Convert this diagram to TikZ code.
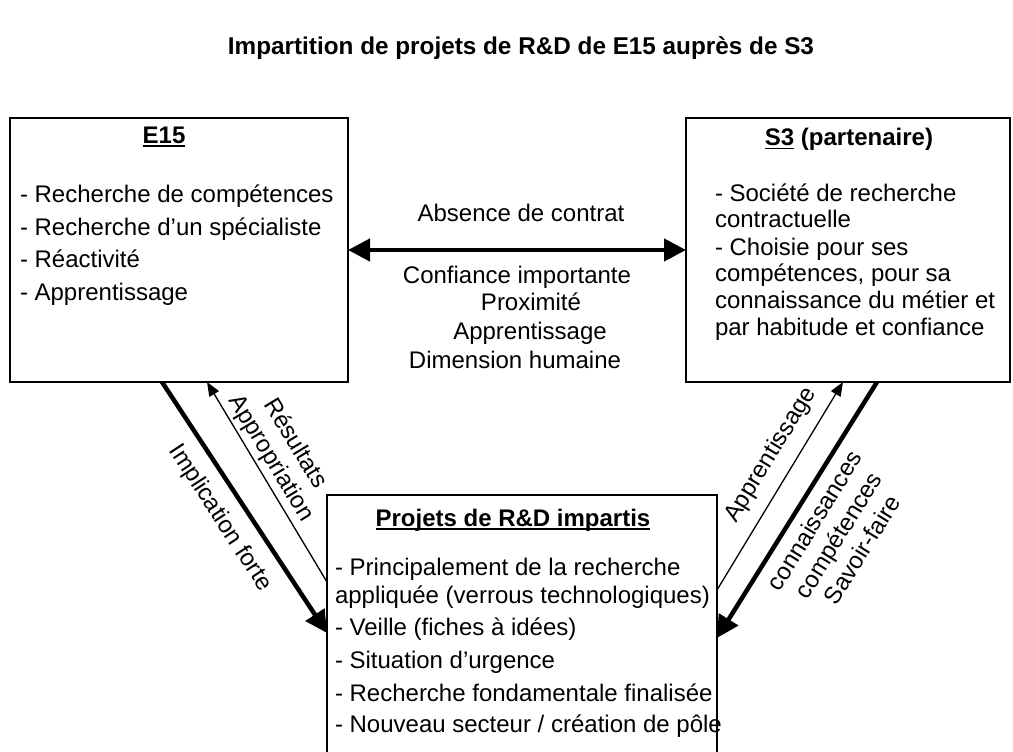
\documentclass[tikz,border=0pt]{standalone}
\usepackage{fontspec}
\setmainfont{Liberation Sans}
\usetikzlibrary{arrows.meta,calc}
% underline drawn as a rule just below the baseline
\newcommand\hdul[1]{\setbox0\hbox{#1}\rlap{\rule[-3.5pt]{\wd0}{1.8pt}}\box0\relax}

\begin{document}
\begin{tikzpicture}[x=1pt,y=-1pt,
  every node/.style={inner sep=0pt,outer sep=0pt,font=\fontsize{24}{27.6}\selectfont},
  box/.style={draw,line width=1.8pt,rectangle},
  line/.style={anchor=base west},
  mid/.style={anchor=base},
  thickarrow/.style={line width=4.5pt,-{Triangle[length=22pt,width=22pt]}},
  thinarrow/.style={line width=1.3pt,-{Triangle[length=14pt,width=11pt]}},
  twoway/.style={line width=4.5pt,{Triangle[length=22pt,width=22pt]}-{Triangle[length=22pt,width=22pt]}}
]
\clip (0,0) rectangle (1013,752);
\fill[white] (0,0) rectangle (1013,752);

% title
\node[mid,font=\fontsize{24.3}{28}\selectfont\bfseries] (title) at (521,55)
  {Impartition de projets de R\&D de E15 auprès de S3};

% the three boxes
\node[box,minimum width=338pt,minimum height=264pt] (e15) at (179,250) {};
\node[box,minimum width=324pt,minimum height=264pt] (s3) at (848,250) {};
\node[box,minimum width=390pt,minimum height=275pt] (proj) at (522,632.5) {};

% E15 contents
\node[mid] (e15t) at (164,143) {\textbf{\hdul{E15}}};
\node[line] (e15a) at (20,202) {- Recherche de compétences};
\node[line] (e15b) at (20,235) {- Recherche d’un spécialiste};
\node[line] (e15c) at (20,267) {- Réactivité};
\node[line] (e15d) at (20,300) {- Apprentissage};

% S3 contents
\node[mid] (s3t) at (849,146) {\textbf{\hdul{S3} (partenaire)}};
\node[line] (s3a) at (715,201) {- Société de recherche};
\node[line] (s3b) at (715,227) {contractuelle};
\node[line] (s3c) at (715,255) {- Choisie pour ses};
\node[line] (s3d) at (715,281) {compétences, pour sa};
\node[line] (s3e) at (715,308) {connaissance du métier et};
\node[line] (s3f) at (715,335) {par habitude et confiance};

% project box contents
\node[mid] (projt) at (513,526) {\textbf{\hdul{Projets de R\&D impartis}}};
\node[line] (pa) at (335,575) {- Principalement de la recherche};
\node[line] (pb) at (335,603) {appliquée (verrous technologiques)};
\node[line] (pc) at (335,635) {- Veille (fiches à idées)};
\node[line] (pd) at (335,668) {- Situation d’urgence};
\node[line] (pe) at (335,701) {- Recherche fondamentale finalisée};
\node[line] (pf) at (335,732) {- Nouveau secteur / création de pôle};

% relation between E15 and S3
\draw[twoway] (e15.east) -- (s3.west);
\node[mid] (abs) at (521,221) {Absence de contrat};
\node[mid] (m1) at (517,283) {Confiance importante};
\node[mid] (m2) at (531,310) {Proximité};
\node[mid] (m3) at (530,339) {Apprentissage};
\node[mid] (m4) at (515,368) {Dimension humaine};

% E15 <-> projects
\draw[thickarrow] ([xshift=152pt]e15.south west) -- ([yshift=-138pt]proj.north west);
\draw[thinarrow] ([yshift=-87pt]proj.north west) -- ([xshift=197pt]e15.south west);
\node[rotate=-56.8] (impl) at (220,518) {Implication forte};
\node[rotate=-58.9,align=center,font=\fontsize{24}{28}\selectfont] (res) at (283,451)
  {Résultats\\Appropriation};

% S3 <-> projects
\draw[thinarrow] ([yshift=-95pt]proj.north east) -- ([xshift=157pt]s3.south west);
\draw[thickarrow] ([xshift=191pt]s3.south west) -- ([yshift=-143pt]proj.north east);
\node[rotate=58.8] (appr) at (771,455) {Apprentissage};
\node[rotate=58.3,align=center,font=\fontsize{24}{28}\selectfont] (conn) at (838,535)
  {connaissances\\compétences\\Savoir-faire};
\end{tikzpicture}
\end{document}
